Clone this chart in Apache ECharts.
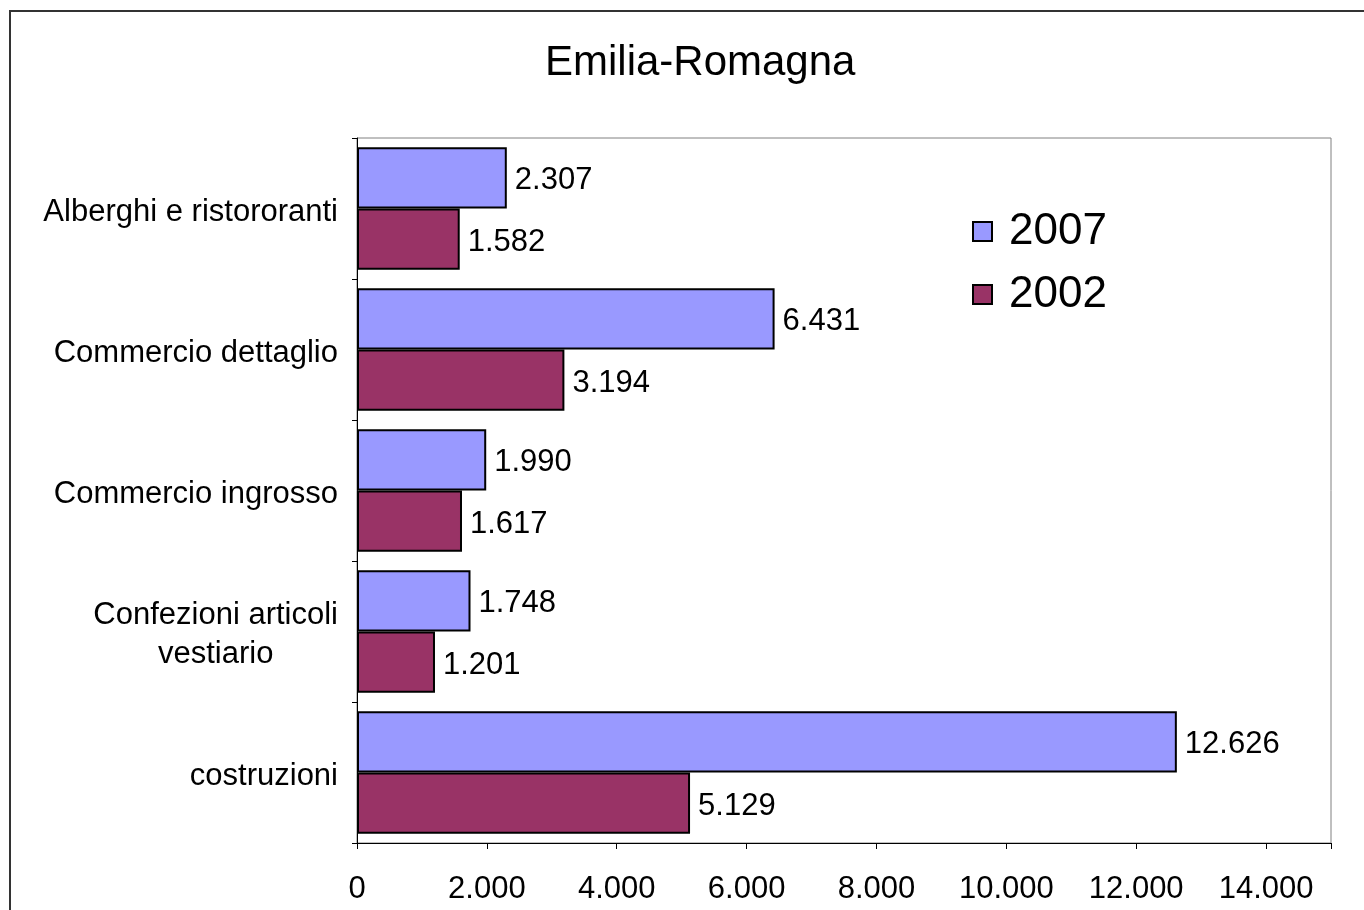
<!DOCTYPE html>
<html>
<head>
    <meta charset="UTF-8"/>
    <script type="text/javascript" src="https://cdn.jsdelivr.net/npm/echarts@6/dist/echarts.min.js"></script>
    <title>Emilia-Romagna</title>
    <style>
        body { margin: 0; background: #fff; }
        #chart { width: 1364px; height: 910px; }
    </style>
</head>
<body>
<div id="chart"></div>

<script type="application/javascript">
    // dati
    var categorie = ['Alberghi e ristororanti', 'Commercio dettaglio', 'Commercio ingrosso', 'Confezioni articoli\nvestiario', 'costruzioni'];
    var anni = ['2007', '2002'];
    var valori2007 = [2307, 6431, 1990, 1748, 12626];
    var valori2002 = [1582, 3194, 1617, 1201, 5129];
    var colori = ['#9999FF', '#993366'];

    function migliaia(v) {
        return String(v).replace(/\B(?=(\d{3})+(?!\d))/g, '.');
    }

    var font = 'Liberation Sans, Arial, sans-serif';
    var myChart = echarts.init(document.getElementById('chart'));

    var etichetta = {
        show: true, position: 'right', distance: 8, offset: [0, 3],
        fontSize: 31, color: '#000', fontFamily: font,
        formatter: function (p) { return migliaia(p.value); }
    };

    var option = {
        backgroundColor: '#fff',
        textStyle: { fontFamily: font },
        title: {
            text: 'Emilia-Romagna',
            left: 540,
            top: 37,
            textStyle: { fontFamily: font, fontSize: 42, fontWeight: 'normal', color: '#000' }
        },
        legend: {
            orient: 'vertical',
            left: 967,
            top: 204,
            itemWidth: 19,
            itemHeight: 19,
            itemGap: 18,
            icon: 'rect',
            data: anni,
            itemStyle: { borderWidth: 2, borderColor: '#000' },
            textStyle: { fontFamily: font, fontSize: 44, lineHeight: 45, color: '#000', padding: [0, 0, 0, 12] }
        },
        graphic: [{
            type: 'rect',
            shape: { x: 10, y: 11, width: 1400, height: 1000 },
            style: { fill: null, stroke: '#333', lineWidth: 2 },
            silent: true
        }],
        grid: {
            left: 357,
            right: 33,
            top: 138,
            bottom: 67,
            show: true,
            borderColor: '#808080',
            borderWidth: 1
        },
        xAxis: {
            type: 'value',
            min: 0,
            max: 15000,
            interval: 2000,
            splitLine: { show: false },
            axisLine: { show: true, lineStyle: { color: '#000', width: 1 } },
            axisTick: { show: true, length: 6, lineStyle: { color: '#000' } },
            axisLabel: {
                margin: 31,
                fontSize: 31,
                color: '#000',
                fontFamily: font,
                formatter: function (v) { return v > 14000 ? '' : migliaia(v); }
            }
        },
        yAxis: {
            type: 'category',
            inverse: true,
            data: categorie,
            axisLine: { show: true, lineStyle: { color: '#000', width: 1 } },
            axisTick: { show: true, length: 5, lineStyle: { color: '#000' } },
            axisLabel: {
                margin: 19,
                fontSize: 31,
                color: '#000',
                fontFamily: font,
                formatter: function (v) {
                    return v.split('\n').map(function (r) { return '{c|' + r + '}'; }).join('\n');
                },
                rich: {
                    c: { align: 'center', fontSize: 31, fontFamily: font, color: '#000', lineHeight: 39, padding: [7, 0, 0, 0] }
                }
            }
        },
        series: [
            {
                name: anni[0],
                type: 'bar',
                data: valori2007,
                barGap: '0%',
                barCategoryGap: '13%',
                itemStyle: { color: colori[0], borderColor: '#000', borderWidth: 2 },
                label: etichetta
            },
            {
                name: anni[1],
                type: 'bar',
                data: valori2002,
                barGap: '0%',
                barCategoryGap: '13%',
                itemStyle: { color: colori[1], borderColor: '#000', borderWidth: 2 },
                label: etichetta
            }
        ]
    };

    myChart.setOption(option);
</script>
</body>
</html>
